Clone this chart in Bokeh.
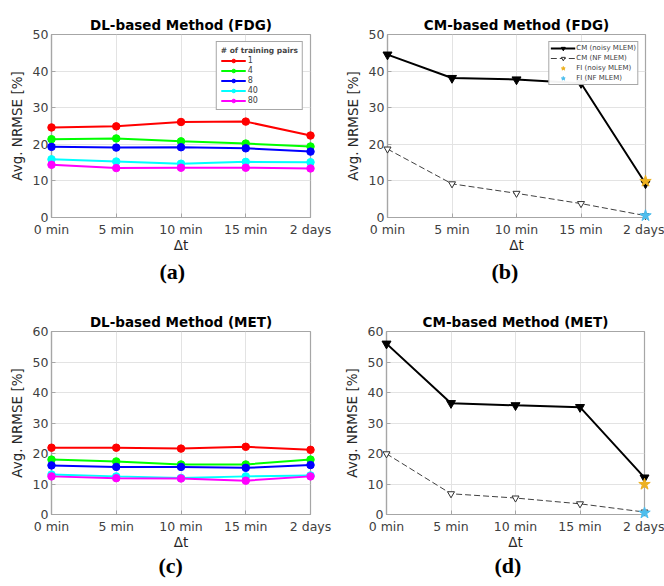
from bokeh.plotting import figure
from bokeh.layouts import column, row
from bokeh.models import Range1d, FixedTicker, Title, Legend, LegendItem
from bokeh.embed import file_html
from bokeh.resources import INLINE

# ---------------- data ----------------
dt_labels = ["0 min", "5 min", "10 min", "15 min", "2 days"]
dt_pos = [0, 1, 2, 3, 4]

pairs_labels = ["1", "4", "8", "40", "80"]
pair_colors = ["#ff0000", "#00ff00", "#0000ff", "#00ffff", "#ff00ff"]

# DL-based, FDG (one list per number of training pairs)
dl_fdg_1 = [24.6, 24.9, 26.1, 26.2, 22.4]
dl_fdg_4 = [21.4, 21.6, 20.8, 20.2, 19.4]
dl_fdg_8 = [19.3, 19.1, 19.2, 18.9, 18.0]
dl_fdg_40 = [15.9, 15.3, 14.7, 15.2, 15.1]
dl_fdg_80 = [14.4, 13.5, 13.6, 13.6, 13.4]

# DL-based, MET
dl_met_1 = [21.9, 21.9, 21.6, 22.2, 21.2]
dl_met_4 = [18.0, 17.4, 16.4, 16.4, 18.0]
dl_met_8 = [16.1, 15.6, 15.6, 15.3, 16.2]
dl_met_40 = [13.1, 12.5, 12.0, 12.5, 12.8]
dl_met_80 = [12.5, 11.9, 11.8, 11.1, 12.5]

# CM-based
cm_fdg_noisy = [44.5, 38.1, 37.7, 36.7, 9.3]
cm_fdg_nf = [18.7, 9.2, 6.6, 3.8, 0.5]
fi_fdg_noisy = [9.9]
fi_fdg_nf = [0.5]

cm_met_noisy = [56.0, 36.5, 35.8, 35.2, 12.1]
cm_met_nf = [19.9, 6.8, 5.4, 3.5, 0.8]
fi_met_noisy = [9.9]
fi_met_nf = [0.5]

fi_pos = [4]

cm_labels = ["CM (noisy MLEM)", "CM (NF MLEM)", "FI (noisy MLEM)", "FI (NF MLEM)"]

FONT = "DejaVu Sans"
AXIS_GRAY = "#a6a6a6"
TEXT_GRAY = "#404040"


def make_panel(title, sub, ymax, width, height, left, right, top, bottom,
               sub_standoff, sub_offset):
    p = figure(width=width, height=height,
               x_range=Range1d(0, 4), y_range=Range1d(0, ymax),
               output_backend="svg", toolbar_location=None,
               min_border_left=left, min_border_right=right,
               min_border_top=top, min_border_bottom=bottom,
               title=title)
    p.title.text_font = FONT
    p.title.text_font_size = "13.5px"
    p.title.text_font_style = "bold"
    p.title.text_color = "black"
    p.title.align = "center"
    p.title.standoff = 3

    p.xaxis.ticker = FixedTicker(ticks=dt_pos)
    p.xaxis.major_label_overrides = {i: l for i, l in zip(dt_pos, dt_labels)}
    p.yaxis.ticker = FixedTicker(ticks=list(range(0, ymax + 1, 10)))
    p.xaxis.axis_label = "Δt"
    p.yaxis.axis_label = "Avg. NRMSE [%]"
    for ax in (p.xaxis[0], p.yaxis[0]):
        ax.axis_line_color = AXIS_GRAY
        ax.axis_line_width = 1.2
        ax.major_tick_line_color = AXIS_GRAY
        ax.major_tick_in = 4
        ax.major_tick_out = 0
        ax.minor_tick_line_color = None
        ax.major_label_text_font = FONT
        ax.major_label_text_font_size = "12.5px"
        ax.major_label_text_color = TEXT_GRAY
        ax.axis_label_text_font = FONT
        ax.axis_label_text_font_size = "13.5px"
        ax.axis_label_text_font_style = "normal"
        ax.axis_label_text_color = "#262626"
    p.xaxis.major_label_standoff = 4
    p.xaxis.axis_label_standoff = -3
    p.yaxis.major_label_standoff = 3
    p.yaxis.axis_label_standoff = 5

    p.grid.grid_line_color = "#e3e3e3"
    p.grid.grid_line_width = 1
    p.outline_line_color = AXIS_GRAY
    p.outline_line_width = 1.2
    p.background_fill_color = "white"
    p.border_fill_color = "white"

    st = Title(text=sub, align="left", offset=sub_offset,
               text_font="Liberation Serif",
               text_font_size="22px", text_font_style="bold", text_color="black",
               standoff=sub_standoff)
    p.add_layout(st, "below")
    return p


def dl_panel(p, series, with_legend):
    items = []
    for lbl, col, ys in zip(pairs_labels, pair_colors, series):
        r1 = p.line(dt_pos, ys, line_color=col, line_width=2)
        r2 = p.scatter(dt_pos, ys, marker="circle", size=7.5,
                       fill_color=col, line_color=col, level="overlay")
        items.append(LegendItem(label=lbl, renderers=[r1, r2]))
    if with_legend:
        lg = Legend(items=items, location="top_right")
        lg.title = "# of training pairs"
        lg.title_text_font = FONT
        lg.title_text_font_size = "7.5px"
        lg.title_text_font_style = "bold"
        lg.title_standoff = 1
        lg.label_text_font = FONT
        lg.label_text_font_size = "8px"
        lg.label_text_color = TEXT_GRAY
        lg.glyph_width = 25
        lg.glyph_height = 9
        lg.label_height = 9
        lg.label_standoff = 2
        lg.spacing = 1
        lg.padding = 4
        lg.margin = 7
        lg.border_line_color = "#505050"
        lg.border_line_width = 1
        lg.background_fill_alpha = 1
        p.add_layout(lg, "center")


def cm_panel(p, noisy, nf, fin, fnf, with_legend):
    r1 = p.line(dt_pos, noisy, line_color="black", line_width=2)
    r2 = p.scatter(dt_pos, noisy, marker="inverted_triangle", size=9,
                   fill_color="black", line_color="black", level="overlay")
    r3 = p.line(dt_pos, nf, line_color="#404040", line_width=1, line_dash="6 3")
    r4 = p.scatter(dt_pos, nf, marker="inverted_triangle", size=7,
                   fill_color="white", line_color="#303030", level="overlay")
    r5 = p.scatter(fi_pos, fin, marker="star", size=12,
                   fill_color="#edb120", line_color="#edb120", level="overlay")
    r6 = p.scatter(fi_pos, fnf, marker="star", size=12,
                   fill_color="#4dbeee", line_color="#4dbeee", level="overlay")
    if with_legend:
        items = [LegendItem(label=cm_labels[0], renderers=[r1, r2]),
                 LegendItem(label=cm_labels[1], renderers=[r3, r4]),
                 LegendItem(label=cm_labels[2], renderers=[r5]),
                 LegendItem(label=cm_labels[3], renderers=[r6])]
        lg = Legend(items=items, location="top_right")
        lg.label_text_font = FONT
        lg.label_text_font_size = "7px"
        lg.label_text_color = TEXT_GRAY
        lg.glyph_width = 25
        lg.glyph_height = 10
        lg.label_height = 10
        lg.label_standoff = 1
        lg.spacing = 0
        lg.padding = 1
        lg.margin = 7
        lg.border_line_color = "#505050"
        lg.border_line_width = 1
        p.add_layout(lg, "center")


pa = make_panel("DL-based Method (FDG)", "(a)", 50, 332, 300, 51, 22, 34, 83, 3, 108)
dl_panel(pa, [dl_fdg_1, dl_fdg_4, dl_fdg_8, dl_fdg_40, dl_fdg_80], True)

pb = make_panel("CM-based Method (FDG)", "(b)", 50, 332, 300, 55, 19, 34, 83, 3, 104)
cm_panel(pb, cm_fdg_noisy, cm_fdg_nf, fi_fdg_noisy, fi_fdg_nf, True)

pc = make_panel("DL-based Method (MET)", "(c)", 60, 332, 286, 51, 22, 31, 72, -3, 107)
dl_panel(pc, [dl_met_1, dl_met_4, dl_met_8, dl_met_40, dl_met_80], False)

pd = make_panel("CM-based Method (MET)", "(d)", 60, 332, 286, 54, 20, 31, 72, -3, 108)
cm_panel(pd, cm_met_noisy, cm_met_nf, fi_met_noisy, fi_met_nf, False)

layout = column(row(pa, pb), row(pc, pd))
open("out.html", "w").write(file_html(layout, INLINE))
